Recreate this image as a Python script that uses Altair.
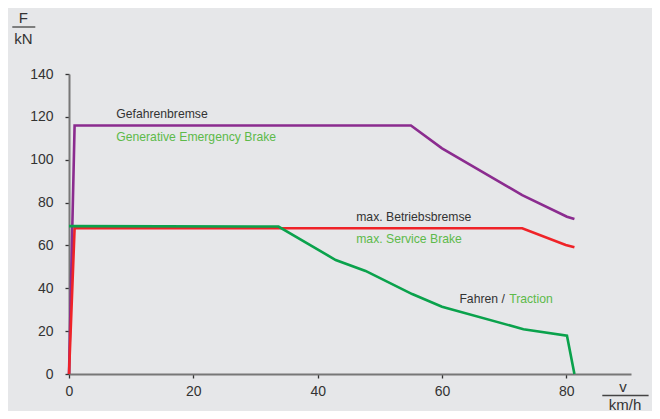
import altair as alt
import pandas as pd

# Series data (v in km/h, F in kN)
brake_em_v = [0, 0.9, 55.0, 60.0, 72.9, 80.1, 81.3]
brake_em_f = [0, 116, 116, 105.3, 83.5, 73.4, 72.3]

service_v = [0, 0.9, 72.9, 79.9, 81.3]
service_f = [0, 68, 68, 60.2, 59.1]

traction_v = [0, 33.7, 42.9, 47.7, 55.2, 60.0, 73.1, 80.1, 81.3]
traction_f = [69, 68.8, 53.2, 48.1, 37.3, 31.4, 20.9, 17.9, 0]

series_names = ["Gefahrenbremse", "max. Betriebsbremse", "Fahren"]
series_colors = ["#8b2c8f", "#ef2328", "#0aa24c"]

x_ticks = [0, 20, 40, 60, 80]
y_ticks = [0, 20, 40, 60, 80, 100, 120, 140]

# Annotation labels
label_text = ["Gefahrenbremse", "Generative Emergency Brake", "max. Betriebsbremse",
              "max. Service Brake", "Fahren /", "Traction"]
label_v = [7.6, 7.6, 46.2, 46.2, 62.8, 70.8]
label_f = [121.3, 110.6, 73.5, 63.0, 35.0, 35.0]
label_col = ["#333333", "#5dba4a", "#333333", "#5dba4a", "#333333", "#5dba4a"]

rows = []
for name, vs, fs in zip(series_names, [brake_em_v, service_v, traction_v],
                        [brake_em_f, service_f, traction_f]):
    for i, (v, f) in enumerate(zip(vs, fs)):
        rows.append({"series": name, "v": v, "F": f, "i": i})
df = pd.DataFrame(rows)
labels = pd.DataFrame({"text": label_text, "v": label_v, "F": label_f, "c": label_col})

FONT = "Liberation Sans"
TXT = "#333333"

xscale = alt.Scale(domain=[0, 90.4], nice=False)
yscale = alt.Scale(domain=[0, 140], nice=False)

lines = alt.Chart(df).mark_line(strokeWidth=2.6, clip=False).encode(
    x=alt.X("v:Q", scale=xscale, title=None,
            axis=alt.Axis(values=x_ticks, grid=False, tickSize=4, labelPadding=6,
                          labelFontSize=14, labelColor=TXT, labelFont=FONT,
                          domainColor="#777777", domainWidth=2, tickColor="#333333",
                          tickWidth=1.3, labelFlush=False)),
    y=alt.Y("F:Q", scale=yscale, title=None,
            axis=alt.Axis(values=y_ticks, grid=False, tickSize=4, labelPadding=12,
                          labelFontSize=14, labelColor=TXT, labelFont=FONT,
                          domainColor="#777777", domainWidth=2, tickColor="#333333",
                          tickWidth=1.3, labelFlush=False)),
    color=alt.Color("series:N", scale=alt.Scale(domain=series_names, range=series_colors),
                    legend=None),
    detail="series:N",
    order="i:Q",
)

texts = alt.Chart(labels).mark_text(align="left", baseline="middle", fontSize=12.2,
                                    font=FONT).encode(
    x=alt.X("v:Q", scale=xscale),
    y=alt.Y("F:Q", scale=yscale),
    text="text:N",
    color=alt.Color("c:N", scale=None),
)

# Axis unit titles (fraction style)
unit_df = pd.DataFrame({"t": ["F", "kN", "v", "km/h"],
                        "px": [-45.7, -45.7, 554, 556],
                        "py": [-56.3, -34.6, 313, 330.5]})
units = alt.Chart(unit_df).mark_text(align="center", baseline="middle", fontSize=15,
                                     font=FONT, color=TXT).encode(
    x=alt.X("px:Q", scale=None),
    y=alt.Y("py:Q", scale=None),
    text="t:N",
)
frac_df = pd.DataFrame({"x1": [-56.7, 533.3], "x2": [-33.7, 579.6], "y": [-47.0, 321.5]})
fracs = alt.Chart(frac_df).mark_rule(color="#444444", strokeWidth=1.3).encode(
    x=alt.X("x1:Q", scale=None),
    x2="x2:Q",
    y=alt.Y("y:Q", scale=None),
)

chart = alt.layer(lines, texts, units, fracs).properties(
    width=562, height=300,
    autosize="none",
    padding={"left": 61, "top": 66, "right": 21, "bottom": 37},
    background="#e6e7e9",
).configure_view(stroke=None)

chart.save("out.html", embed_options={"renderer": "svg", "actions": False})
